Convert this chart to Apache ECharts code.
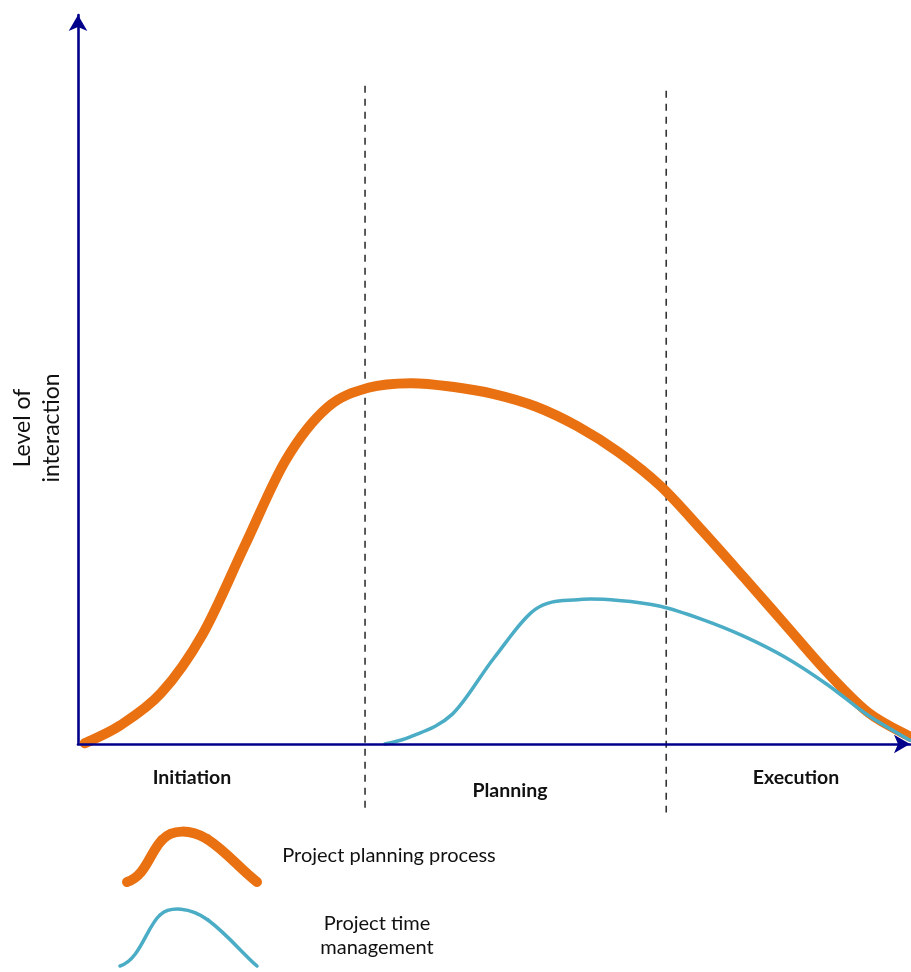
<!DOCTYPE html>
<html>
<head>
<meta charset="utf-8">
<script src="https://cdn.jsdelivr.net/npm/echarts@6/dist/echarts.min.js"></script>
<style>
html,body{margin:0;padding:0;background:#fff;}
#chart{width:911px;height:972px;}
</style>
</head>
<body>
<div id="chart"></div>
<script>
// Project planning process (thick orange curve): x = % of project time, y = level of interaction
var planningX = [0.8, 5, 10, 15, 20, 25, 30, 35, 40, 45, 50, 55, 60, 65, 70, 75, 80, 85, 90, 95, 100];
var planningY = [0.1, 2.5, 7.0, 15.1, 27.1, 39.0, 46.2, 48.9, 49.5, 49.0, 48.0, 46.3, 43.6, 40.0, 35.4, 29.3, 22.9, 16.4, 9.9, 4.3, 1.0];
// Project time management (thin blue curve)
var timeX = [36.9, 40, 45, 50, 55, 60, 65, 70, 75, 80, 85, 90, 95, 100];
var timeY = [0.0, 1.0, 4.1, 11.8, 18.5, 19.8, 19.7, 18.9, 17.1, 14.8, 11.9, 8.2, 3.9, 0.5];
// Phase boundaries (dashed lines)
var boundaryX = [34.5, 70.7];
var boundaryTop = [90.3, 89.6];
var boundaryBottom = [-9.4, -9.4];
// Text
var phaseNames = ['Initiation', 'Planning', 'Execution'];
var seriesNames = ['Project planning process', 'Project time management'];
var yAxisTitle = 'Level of\ninteraction';

var ORANGE = '#EA7111', BLUE = '#4BACC6', NAVY = '#00008B';
var FONT = 'Lato, "Open Sans", sans-serif';

var chart = echarts.init(document.getElementById('chart'), null, {renderer:'canvas'});

// smooth curve through the data points (Catmull-Rom), positioned by the axes
function curveSeries(name, xs, ys, color, width, z){
  return {
    type:'custom', name:name, z:z, clip:false, silent:true,
    data:[[xs[0], ys[0]]],
    renderItem:function(params, api){
      var pts = xs.map(function(x,i){ return api.coord([x, ys[i]]); });
      var d = 'M' + pts[0][0] + ' ' + pts[0][1];
      for (var i = 0; i < pts.length - 1; i++){
        var p0 = pts[i-1] || pts[i], p1 = pts[i], p2 = pts[i+1], p3 = pts[i+2] || pts[i+1];
        var c1x = p1[0] + (p2[0]-p0[0])/6, c1y = p1[1] + (p2[1]-p0[1])/6;
        var c2x = p2[0] - (p3[0]-p1[0])/6, c2y = p2[1] - (p3[1]-p1[1])/6;
        d += ' C' + c1x + ' ' + c1y + ' ' + c2x + ' ' + c2y + ' ' + p2[0] + ' ' + p2[1];
      }
      return {type:'path', shape:{pathData:d},
        style:{stroke:color, lineWidth:width, fill:'none', lineCap:'round', lineJoin:'round'}};
    }
  };
}

var series = [];
boundaryX.forEach(function(bx, i){
  series.push({
    type:'line', name:'boundary'+i, silent:true, clip:false, symbol:'none', z:1,
    data:[[bx, boundaryTop[i]], [bx, boundaryBottom[i]]],
    lineStyle:{color:'#333', width:1.6, type:[7,6]}
  });
});
series.push(curveSeries(seriesNames[0], planningX, planningY, ORANGE, 10, 3));
series.push(curveSeries(seriesNames[1], timeX, timeY, BLUE, 3.5, 4));

function bez(p, color, w){
  return {type:'bezierCurve', silent:true,
    shape:{x1:p[0], y1:p[1], cpx1:p[2], cpy1:p[3], cpx2:p[4], cpy2:p[5], x2:p[6], y2:p[7]},
    style:{stroke:color, lineWidth:w, fill:null, lineCap:'round', lineJoin:'round'}};
}

var option = {
  animation:false,
  backgroundColor:'#fff',
  grid:{left:78, top:15, width:832, height:729},
  xAxis:{type:'value', min:0, max:100,
    axisLine:{onZero:false, lineStyle:{color:NAVY, width:2.6}, symbol:['none','arrow'], symbolSize:[14,16]},
    axisTick:{show:false}, axisLabel:{show:false}, splitLine:{show:false}, z:5},
  yAxis:{type:'value', min:0, max:100,
    axisLine:{show:true, onZero:false, lineStyle:{color:NAVY, width:2.6}, symbol:['none','arrow'], symbolSize:[14,16]},
    axisTick:{show:false}, axisLabel:{show:false}, splitLine:{show:false}},
  series:series,
  graphic:[
    {type:'text', x:37, y:428, rotation:Math.PI/2, style:{text:yAxisTitle, font:'23px '+FONT, fill:'#111', align:'center', verticalAlign:'middle', lineHeight:29}},
    {type:'text', x:192, y:778, style:{text:phaseNames[0], font:'bold 19.5px '+FONT, fill:'#111', align:'center', verticalAlign:'middle'}},
    {type:'text', x:510, y:791, style:{text:phaseNames[1], font:'bold 19.5px '+FONT, fill:'#111', align:'center', verticalAlign:'middle'}},
    {type:'text', x:796, y:778, style:{text:phaseNames[2], font:'bold 19.5px '+FONT, fill:'#111', align:'center', verticalAlign:'middle'}},
    bez([127,882, 146,876, 150,852, 162,840], ORANGE, 10),
    bez([162,840, 172,829, 190,829, 207,839], ORANGE, 10),
    bez([207,839, 226,851, 240,869, 257,882], ORANGE, 10),
    bez([120,966, 140,960, 147,926, 160,915], BLUE, 3.5),
    bez([160,915, 170,906, 190,907, 208,920], BLUE, 3.5),
    bez([208,920, 228,935, 244,955, 257,966], BLUE, 3.5),
    {type:'text', x:389, y:856, style:{text:seriesNames[0], font:'20px '+FONT, fill:'#111', align:'center', verticalAlign:'middle'}},
    {type:'text', x:377, y:936, style:{text:'Project time\nmanagement', font:'20px '+FONT, fill:'#111', align:'center', verticalAlign:'middle', lineHeight:24}}
  ]
};
chart.setOption(option);
</script>
</body>
</html>
